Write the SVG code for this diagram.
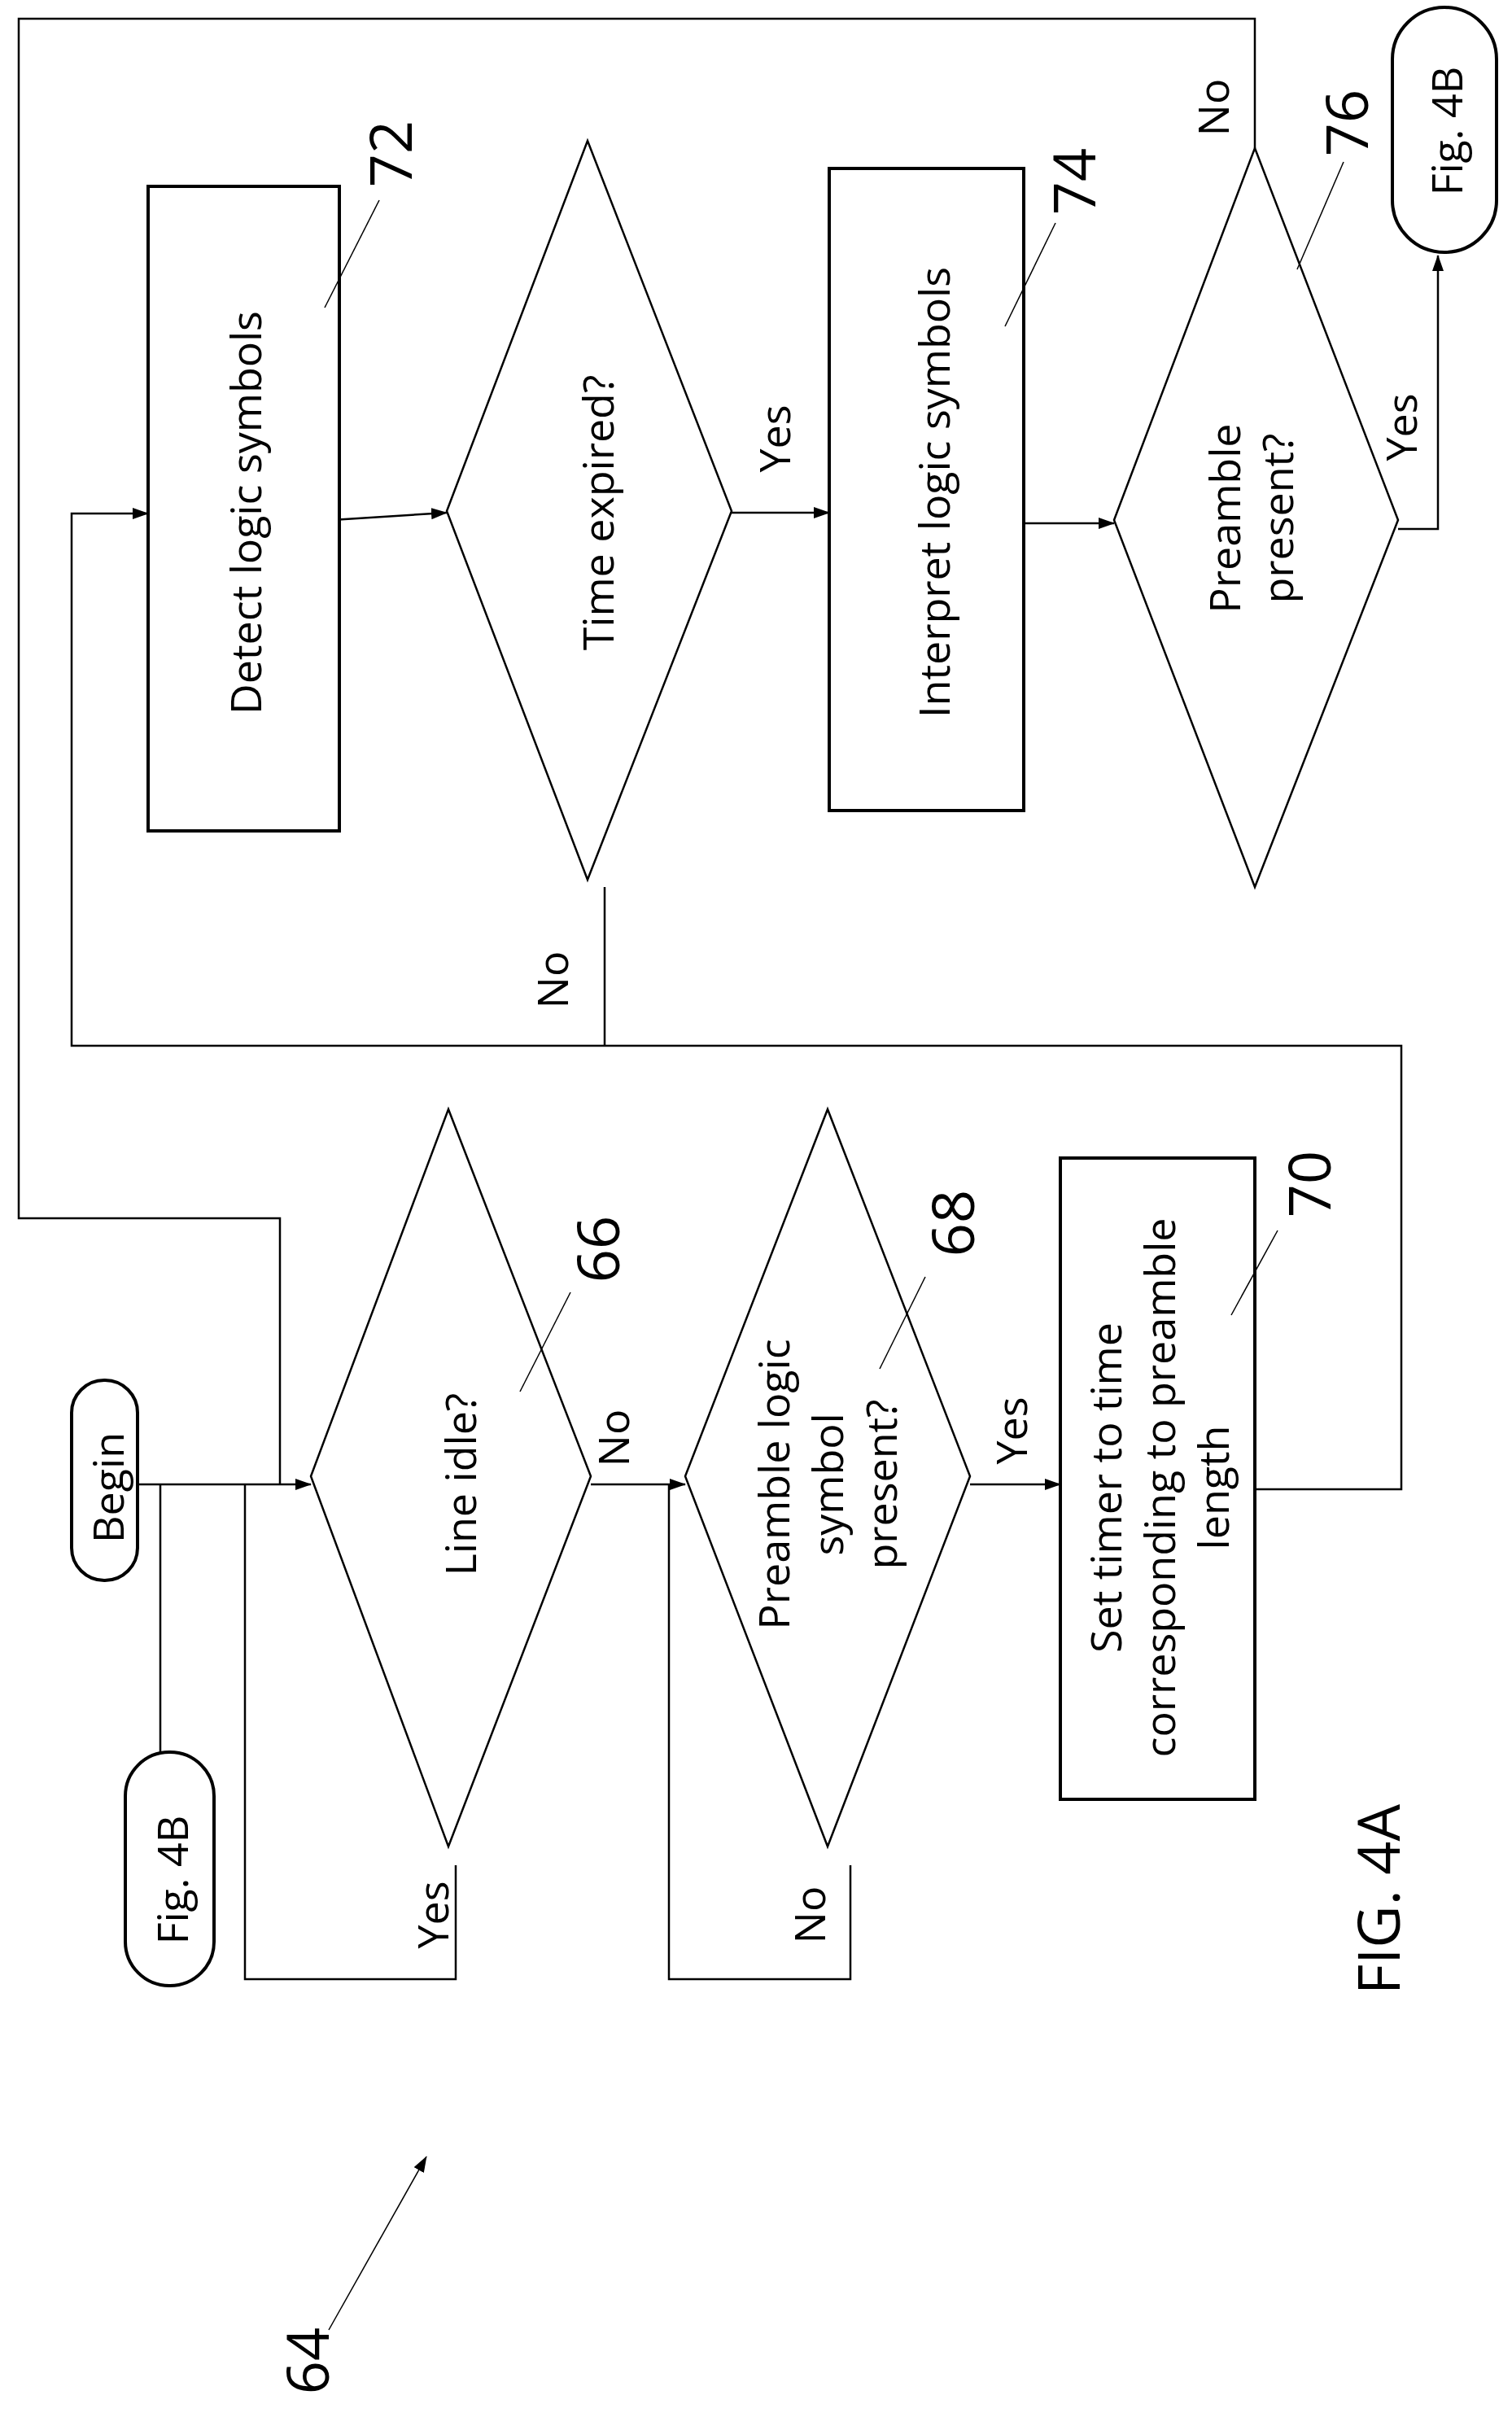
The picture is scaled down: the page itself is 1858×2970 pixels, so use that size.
<svg xmlns="http://www.w3.org/2000/svg" width="1858" height="2970" viewBox="0 0 1858 2970">
<style>
.s{fill:#fff;stroke:#000;stroke-width:4}
.d{fill:#fff;stroke:#000;stroke-width:2.5}
.c{fill:none;stroke:#000;stroke-width:2.5}
.l{fill:none;stroke:#000;stroke-width:1.5}
text{font-family:"Open Sans","Noto Sans",sans-serif;font-size:52px;text-anchor:middle;dominant-baseline:central}
.n{font-size:72px}
.f{font-size:72px}
</style>
<defs><marker id="b" markerWidth="20" markerHeight="14" refX="19" refY="7" orient="auto" markerUnits="userSpaceOnUse"><path d="M0,0L20,7L0,14z"/></marker></defs>
<g id="connectors">
<polyline class="c" points="1542,182 1542,23 23,23 23,1497 344,1497 344,1824"/>
<line class="c" x1="169" y1="1824" x2="382" y2="1824" marker-end="url(#b)"/>
<polyline class="c" points="197,1824 197,2153"/>
<polyline class="c" points="301,1824 301,2432 560,2432 560,2292"/>
<line class="c" x1="726" y1="1824" x2="842" y2="1824" marker-end="url(#b)"/>
<polyline class="c" points="822,1824 822,2432 1045,2432 1045,2292"/>
<line class="c" x1="1192" y1="1824" x2="1303" y2="1824" marker-end="url(#b)"/>
<polyline class="c" points="1542,1830 1722,1830 1722,1285 88,1285 88,631 182,631" marker-end="url(#b)"/>
<line class="c" x1="743" y1="1090" x2="743" y2="1285"/>
<line class="c" x1="408" y1="639" x2="549" y2="630" marker-end="url(#b)"/>
<line class="c" x1="899" y1="630" x2="1019" y2="630" marker-end="url(#b)"/>
<line class="c" x1="1258" y1="643" x2="1369" y2="643" marker-end="url(#b)"/>
<polyline class="c" points="1718,650 1767,650 1767,314" marker-end="url(#b)"/>
</g>
<g id="n72"><rect class="s" x="182" y="229" width="235" height="792"/><text transform="translate(300,630) rotate(-90)">Detect logic symbols</text></g>
<g id="nTime"><polygon class="d" points="722,173 899,628 722,1081 549,628"/><text transform="translate(733,630) rotate(-90)">Time expired?</text></g>
<g id="n74"><rect class="s" x="1019" y="207" width="239" height="789"/><text transform="translate(1146,605) rotate(-90)">Interpret logic symbols</text></g>
<g id="n76"><polygon class="d" points="1542,182 1718,639 1542,1090 1369,639"/><text transform="translate(1503,637) rotate(-90)">Preamble</text><text transform="translate(1568,637) rotate(-90)">present?</text></g>
<g id="fig4bTop"><rect class="s" x="1711" y="9" width="128" height="301" rx="64"/><text transform="translate(1776,161) rotate(-90)">Fig. 4B</text></g>
<g id="begin"><rect class="s" x="88" y="1696" width="81" height="246" rx="40"/><text transform="translate(131,1828) rotate(-90)">Begin</text></g>
<g id="fig4bLeft"><rect class="s" x="154" y="2153" width="109" height="287" rx="54"/><text transform="translate(210,2310) rotate(-90)">Fig. 4B</text></g>
<g id="n66"><polygon class="d" points="551,1363 726,1814 551,2269 382,1814"/><text transform="translate(564,1824) rotate(-90)">Line idle?</text></g>
<g id="n68"><polygon class="d" points="1017,1363 1192,1814 1017,2269 842,1814"/><text transform="translate(949,1824) rotate(-90)">Preamble logic</text><text transform="translate(1015,1824) rotate(-90)">symbol</text><text transform="translate(1081,1824) rotate(-90)">present?</text></g>
<g id="n70"><rect class="s" x="1303" y="1423" width="239" height="788"/><text transform="translate(1357,1828) rotate(-90)">Set timer to time</text><text transform="translate(1423,1828) rotate(-90)">corresponding to preamble</text><text transform="translate(1489,1828) rotate(-90)">length</text></g>
<g id="labels">
<text transform="translate(950,539) rotate(-90)">Yes</text>
<text transform="translate(1720,525) rotate(-90)">Yes</text>
<text transform="translate(1489,132) rotate(-90)">No</text>
<text transform="translate(677,1204) rotate(-90)">No</text>
<text transform="translate(752,1767) rotate(-90)">No</text>
<text transform="translate(1241,1758) rotate(-90)">Yes</text>
<text transform="translate(530,2353) rotate(-90)">Yes</text>
<text transform="translate(993,2353) rotate(-90)">No</text>
</g>
<g id="refs">
<line class="l" x1="399" y1="378" x2="466" y2="246"/><text class="n" transform="translate(478,189) rotate(-90)">72</text>
<line class="l" x1="1235" y1="401" x2="1297" y2="274"/><text class="n" transform="translate(1318,223) rotate(-90)">74</text>
<line class="l" x1="1594" y1="331" x2="1651" y2="199"/><text class="n" transform="translate(1653,151) rotate(-90)">76</text>
<line class="l" x1="639" y1="1710" x2="701" y2="1588"/><text class="n" transform="translate(733,1535) rotate(-90)">66</text>
<line class="l" x1="1081" y1="1682" x2="1137" y2="1569"/><text class="n" transform="translate(1169,1503) rotate(-90)">68</text>
<line class="l" x1="1513" y1="1616" x2="1570" y2="1512"/><text class="n" transform="translate(1607,1455) rotate(-90)">70</text>
<line class="l" x1="404" y1="2863" x2="524" y2="2650" marker-end="url(#b)"/><text class="n" transform="translate(376,2901) rotate(-90)">64</text>
<text class="f" transform="translate(1692,2334) rotate(-90)">FIG. 4A</text>
</g>
</svg>
